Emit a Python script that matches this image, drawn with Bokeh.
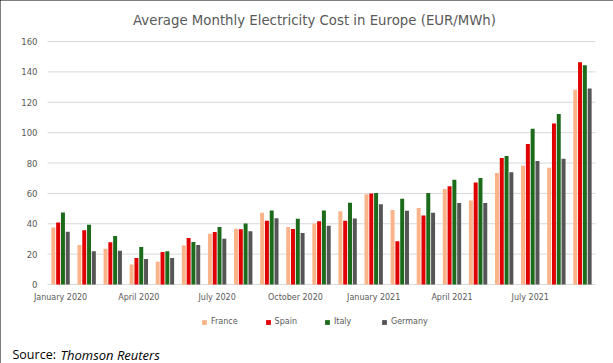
from bokeh.plotting import figure
from bokeh.models import ColumnDataSource, Range1d, FixedTicker, Legend, LegendItem, Label
from bokeh.transform import dodge
from bokeh.embed import file_html
from bokeh.resources import INLINE

months = ["Jan 2020", "Feb 2020", "Mar 2020", "Apr 2020", "May 2020", "Jun 2020",
          "Jul 2020", "Aug 2020", "Sep 2020", "Oct 2020", "Nov 2020", "Dec 2020",
          "Jan 2021", "Feb 2021", "Mar 2021", "Apr 2021", "May 2021", "Jun 2021",
          "Jul 2021", "Aug 2021", "Sep 2021"]
france  = [37.6, 26.0, 23.6, 13.1, 14.9, 25.6, 33.4, 36.7, 47.2, 37.8, 40.2, 48.3,
           59.5, 49.0, 50.3, 62.9, 55.3, 73.4, 78.2, 76.9, 128.3]
spain   = [40.9, 35.8, 27.8, 17.5, 21.4, 30.6, 34.6, 36.3, 42.0, 36.5, 41.7, 42.0,
           59.9, 28.5, 45.4, 64.7, 67.1, 83.3, 92.5, 106.0, 146.4]
italy   = [47.4, 39.3, 31.9, 24.7, 21.9, 28.0, 37.8, 40.2, 48.7, 43.3, 48.7, 53.8,
           60.3, 56.4, 60.2, 68.9, 70.2, 84.6, 102.5, 112.3, 144.3]
germany = [34.8, 21.9, 22.3, 16.8, 17.5, 26.0, 30.2, 35.0, 43.7, 33.9, 38.7, 43.5,
           52.9, 48.5, 47.2, 53.6, 53.6, 73.9, 81.3, 82.8, 129.0]
series_names = ["France", "Spain", "Italy", "Germany"]
tick_labels = {0: "January 2020", 3: "April 2020", 6: "July 2020", 9: "October 2020",
               12: "January 2021", 15: "April 2021", 18: "July 2021"}
y_ticks = [0, 20, 40, 60, 80, 100, 120, 140, 160]
title_text = "Average Monthly Electricity Cost in Europe (EUR/MWh)"
source_prefix = "Source:"
source_name = "Thomson Reuters"

colors = ["#FBB48A", "#E00000", "#1B6B1B", "#555555"]

n = len(months)
W, H = 613, 363
left_px, right_px, top_px, bottom_px = 47, 595, 41, 284   # plot area in pixels
ymax = y_ticks[-1]
ppx = (right_px - left_px) / n          # px per month
ppy = (bottom_px - top_px) / ymax       # px per unit
x_start = -0.5 - left_px / ppx
x_end = n - 0.5 + (W - right_px) / ppx
y_end = ymax + top_px / ppy
y_start = -(H - bottom_px) / ppy

src = ColumnDataSource(dict(idx=list(range(n)), month=months,
                            France=france, Spain=spain, Italy=italy, Germany=germany))
grid_src = ColumnDataSource(dict(y=y_ticks, x0=[-0.5] * len(y_ticks), x1=[n - 0.5] * len(y_ticks)))

p = figure(width=W, height=H, output_backend="svg", toolbar_location=None, title=None,
           x_range=Range1d(x_start, x_end), y_range=Range1d(y_start, y_end),
           min_border=0, background_fill_color="white", border_fill_color="white")
p.outline_line_color = None
p.styles = {"outline": "2px solid black", "outline-offset": "-2px"}
p.xgrid.visible = False
p.ygrid.visible = False

p.segment(x0="x0", y0="y", x1="x1", y1="y", source=grid_src, line_color="#D9D9D9",
          line_width=1, level="underlay")

pitch = 0.184
offsets = [-1.5 * pitch, -0.5 * pitch, 0.5 * pitch, 1.5 * pitch]
renderers = []
for name, col, off in zip(series_names, colors, offsets):
    r = p.vbar(x=dodge("idx", off, range=p.x_range), top=name, width=0.152, bottom=0,
               source=src, fill_color=col, line_color=None)
    renderers.append(r)

p.xaxis.fixed_location = 0
p.xaxis.ticker = FixedTicker(ticks=list(tick_labels.keys()))
p.xaxis.major_label_overrides = tick_labels
p.xaxis.axis_line_color = None
p.xaxis.major_tick_line_color = None
p.xaxis.minor_tick_line_color = None
p.xaxis.major_tick_out = 0
p.xaxis.major_label_standoff = 8
p.xaxis.major_label_text_font = "DejaVu Sans"
p.xaxis.major_label_text_font_size = "8px"
p.xaxis.major_label_text_color = "#595959"

p.yaxis.fixed_location = -0.5
p.yaxis.ticker = FixedTicker(ticks=y_ticks)
p.yaxis.axis_line_color = None
p.yaxis.major_tick_line_color = None
p.yaxis.minor_tick_line_color = None
p.yaxis.major_tick_out = 0
p.yaxis.major_label_standoff = 10
p.yaxis.major_label_text_font = "DejaVu Sans"
p.yaxis.major_label_text_font_size = "8.5px"
p.yaxis.major_label_text_color = "#595959"

p.add_layout(Label(x=314, y=H - 20, x_units="screen", y_units="screen", text=title_text,
                   text_font="DejaVu Sans", text_font_size="13.3px", text_color="#595959",
                   text_align="center", text_baseline="middle"))

p.add_layout(Label(x=12, y=H - 354, x_units="screen", y_units="screen", text=source_prefix,
                   text_font="Open Sans", text_font_size="12.5px", text_color="black",
                   text_align="left", text_baseline="alphabetic"))
p.add_layout(Label(x=60, y=H - 354, x_units="screen", y_units="screen", text=source_name,
                   text_font="Open Sans", text_font_size="13px", text_font_style="italic",
                   text_color="black", text_align="left", text_baseline="alphabetic"))

legend = Legend(items=[LegendItem(label=nm, renderers=[r]) for nm, r in zip(series_names, renderers)],
                orientation="horizontal", location=(201, H - 326),
                glyph_width=6, glyph_height=6, label_standoff=4, spacing=27,
                padding=0, margin=0, border_line_color=None, background_fill_alpha=0,
                label_text_font="DejaVu Sans", label_text_font_size="8px",
                label_text_color="#595959", label_height=8)
p.add_layout(legend)

open("out.html", "w").write(file_html(p, INLINE))
